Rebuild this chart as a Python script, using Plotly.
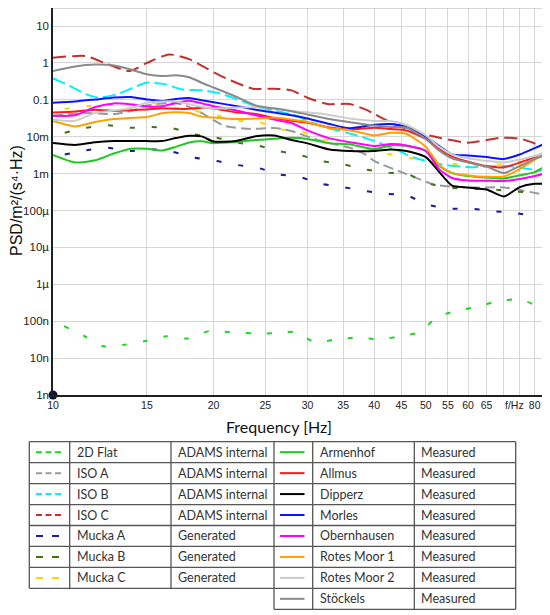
import math
import plotly.graph_objects as go

# measured / generated PSD curves
freq = [10, 11, 12, 13, 14, 15, 16, 17, 18, 19, 20, 22, 24, 26, 28, 30, 33, 36, 40, 43,
        46, 50, 53, 56, 60, 65, 70, 75, 80, 83]

armenhof = [0.0032, 0.0020, 0.0023, 0.0035, 0.0047, 0.0047, 0.0042, 0.0053, 0.0070, 0.0075,
            0.0067, 0.0072, 0.0081, 0.0088, 0.0093, 0.0087, 0.0067, 0.0062, 0.0046, 0.0058,
            0.0056, 0.0041, 0.0016, 0.00104, 0.00086, 0.00078, 0.00074, 0.00090, 0.0011, 0.00146]
allmus = [0.045, 0.048, 0.054, 0.050, 0.052, 0.055, 0.059, 0.057, 0.057, 0.061,
          0.058, 0.046, 0.041, 0.032, 0.027, 0.024, 0.0178, 0.0157, 0.0175, 0.0162,
          0.0148, 0.0087, 0.0046, 0.0029, 0.0021, 0.0016, 0.00147, 0.0020, 0.0028, 0.0036]
dipperz = [0.0068, 0.0060, 0.0071, 0.0076, 0.0076, 0.0076, 0.0076, 0.0092, 0.0106, 0.0102,
           0.0074, 0.0076, 0.0103, 0.0108, 0.0081, 0.0066, 0.0045, 0.0041, 0.0041, 0.0045,
           0.0041, 0.0028, 0.0011, 0.00047, 0.00042, 0.00037, 0.00024, 0.00043, 0.00053, 0.00053]
morles = [0.083, 0.090, 0.102, 0.115, 0.119, 0.102, 0.093, 0.105, 0.112, 0.097,
          0.086, 0.068, 0.054, 0.045, 0.038, 0.031, 0.022, 0.017, 0.021, 0.022,
          0.0183, 0.0101, 0.0056, 0.0033, 0.0031, 0.0028, 0.0025, 0.0033, 0.0049, 0.0062]
obernhausen = [0.037, 0.038, 0.064, 0.080, 0.075, 0.066, 0.067, 0.082, 0.094, 0.080,
               0.067, 0.052, 0.038, 0.029, 0.0235, 0.0148, 0.0090, 0.0071, 0.0056, 0.0063,
               0.0058, 0.0041, 0.0013, 0.00076, 0.00065, 0.00064, 0.00063, 0.00071, 0.00086, 0.00099]
rotes_moor_1 = [0.0266, 0.019, 0.025, 0.030, 0.032, 0.034, 0.043, 0.046, 0.044, 0.035,
                0.033, 0.030, 0.031, 0.033, 0.029, 0.025, 0.017, 0.015, 0.0108, 0.0127,
                0.0118, 0.0053, 0.0017, 0.00103, 0.00089, 0.00082, 0.00084, 0.00133, 0.0024, 0.0033]
rotes_moor_2 = [0.029, 0.027, 0.044, 0.051, 0.060, 0.083, 0.090, 0.090, 0.076, 0.064,
                0.058, 0.062, 0.063, 0.060, 0.050, 0.046, 0.039, 0.031, 0.0266, 0.0266,
                0.0207, 0.0108, 0.0053, 0.0033, 0.0026, 0.0022, 0.0020, 0.0024, 0.0030, 0.0035]
stoeckels = [0.60, 0.80, 0.90, 0.85, 0.66, 0.49, 0.44, 0.46, 0.41, 0.29,
             0.215, 0.123, 0.070, 0.058, 0.049, 0.040, 0.030, 0.0245, 0.020, 0.0183,
             0.0175, 0.0087, 0.0042, 0.0026, 0.0020, 0.00155, 0.00104, 0.0016, 0.0025, 0.0030]

iso_a_f = [10, 11.5, 13, 14, 15, 16.5, 17.5, 19, 20, 21, 23.5, 26, 28, 30.5, 32.7, 36,
           38.5, 40, 46, 52, 60, 70, 83]
iso_a = [0.037, 0.044, 0.041, 0.050, 0.070, 0.082, 0.075, 0.044, 0.028, 0.0195, 0.0162,
         0.0172, 0.0143, 0.0093, 0.0069, 0.0050, 0.0033, 0.0022, 0.00097, 0.00050,
         0.00042, 0.00042, 0.00027]

iso_b_f = [10, 10.75, 11.55, 12.2, 13.15, 14.1, 14.95, 16.1, 17.5, 19.1, 20.5, 22.7,
           24.4, 25.8, 28.2, 30.7, 33.5, 36.5, 40.1, 43.7, 47.6, 53.3, 59.9, 71.4, 82.2]
iso_b = [0.38, 0.24, 0.14, 0.114, 0.14, 0.21, 0.29, 0.27, 0.19, 0.18, 0.15, 0.09,
         0.062, 0.052, 0.039, 0.0237, 0.0158, 0.0116, 0.0076, 0.0046, 0.0027, 0.0018,
         0.0015, 0.0016, 0.00117]

iso_c_f = [10, 11.5, 12.5, 13.9, 15, 16.5, 18, 20, 21.2, 23.7, 26, 28, 30, 32.7, 36,
           38.5, 40.1, 43.7, 50.5, 60, 69.3, 75.5, 82.3]
iso_c = [1.38, 1.54, 1.0, 0.60, 1.0, 1.7, 1.27, 0.56, 0.37, 0.20, 0.20, 0.18, 0.114,
         0.077, 0.077, 0.055, 0.041, 0.0216, 0.011, 0.0069, 0.0094, 0.0087, 0.0056]

mucka_f = [10.52, 11.55, 12.68, 13.93, 15.29, 16.78, 18.43, 20.25, 22.23, 24.4, 26.4,
           29.0, 31.8, 35.0, 38.4, 42.1, 46.3, 50.1, 55.0, 60.4, 66.3, 72.9, 80.0]
mucka_a = [0.0033, 0.0043, 0.0050, 0.0041, 0.0046, 0.0039, 0.0027, 0.0022, 0.0017,
           0.00139, 0.00096, 0.00081, 0.00053, 0.00043, 0.00034, 0.000285, 0.00025,
           0.000147, 0.000113, 0.000113, 0.000097, 0.000087, 0.000071]
mucka_b = [0.0128, 0.0175, 0.0204, 0.0175, 0.0183, 0.0169, 0.0116, 0.0094, 0.0069,
           0.0056, 0.0041, 0.0032, 0.0022, 0.00179, 0.00131, 0.00106, 0.00096, 0.00056,
           0.000415, 0.00039, 0.000376, 0.00033, 0.00030]
mucka_c = [0.056, 0.068, 0.072, 0.075, 0.082, 0.061, 0.050, 0.038, 0.027, 0.025, 0.016,
           0.0143, 0.0086, 0.0076, 0.0050, 0.0035, 0.0027, 0.0021, 0.0019, 0.0017,
           0.0017, 0.0018, 0.0016]

flat_f = [10.49, 11.43, 12.41, 13.59, 14.90, 16.32, 17.91, 19.61, 21.45, 23.61, 25.86,
          28.47, 30.95, 33.88, 37.21, 40.86, 44.8, 48.9, 52.4, 57.1, 62.6, 68.3, 74.9, 81.4]
flat_2d = [7.4e-8, 4.0e-8, 2.1e-8, 2.3e-8, 2.9e-8, 3.9e-8, 3.4e-8, 5.4e-8, 5.1e-8,
           4.7e-8, 4.7e-8, 5.1e-8, 2.7e-8, 3.2e-8, 3.6e-8, 3.2e-8, 3.9e-8, 5.2e-8,
           1.3e-7, 1.9e-7, 2.5e-7, 3.5e-7, 3.9e-7, 2.5e-7]

x_ticks = [10, 15, 20, 25, 30, 35, 40, 45, 50, 55, 60, 65, 70, 75, 80]
x_ticktext = ["10", "15", "20", "25", "30", "35", "40", "45", "50", "55", "60", "65",
              "", "", "80"]
unit_tick = 75  # this gridline carries the "f/Hz" label
y_ticks = [1e-9, 1e-8, 1e-7, 1e-6, 1e-5, 1e-4, 1e-3, 1e-2, 1e-1, 1, 10]
y_ticktext = ["1n", "10n", "100n", "1µ", "10µ", "100µ", "1m", "10m", "0.1", "1", "10"]

left_names = ["2D Flat", "ISO A", "ISO B", "ISO C", "Mucka A", "Mucka B", "Mucka C"]
left_source = ["ADAMS internal"] * 4 + ["Generated"] * 3
right_names = ["Armenhof", "Allmus", "Dipperz", "Morles", "Obernhausen",
               "Rotes Moor 1", "Rotes Moor 2", "Stöckels"]
right_source = ["Measured"] * 8

# (x, y, colour, dash in plot, dash in table)
left_series = [
    (flat_f, flat_2d, "#22d422", "5px,16px", "6px,3.5px"),
    (iso_a_f, iso_a, "#9a9a9a", "10px,5px", "6px,3.5px"),
    (iso_b_f, iso_b, "#00f0ff", "13px,5px", "6px,3.5px"),
    (iso_c_f, iso_c, "#c4302c", "13px,6px", "6px,3.5px"),
    (mucka_f, mucka_a, "#1a1a9c", "5px,17px", "7px,9px"),
    (mucka_f, mucka_b, "#44701a", "5px,17px", "7px,9px"),
    (mucka_f, mucka_c, "#ffd500", "5px,17px", "7px,9px"),
]
right_series = [
    (freq, armenhof, "#1ec81e"),
    (freq, allmus, "#ff1a1a"),
    (freq, dipperz, "#000000"),
    (freq, morles, "#0a14ff"),
    (freq, obernhausen, "#ff00ff"),
    (freq, rotes_moor_1, "#ffa000"),
    (freq, rotes_moor_2, "#cccccc"),
    (freq, stoeckels, "#8a8a8a"),
]

fig = go.Figure()

for x, y, c, d, _ in left_series:
    fig.add_trace(go.Scatter(x=x, y=y, mode="lines",
                             line=dict(color=c, width=2, dash=d, shape="spline", smoothing=0.6)))
for x, y, c in right_series:
    fig.add_trace(go.Scatter(x=x, y=y, mode="lines",
                             line=dict(color=c, width=2, shape="spline", smoothing=0.6)))

# dot at the axes origin
fig.add_trace(go.Scatter(x=[10], y=[1e-9], mode="markers", cliponaxis=False,
                         marker=dict(color="#0b1433", size=9)))

# the page body has an 8 px margin, so the figure is drawn 8 px in from the window edge
PAGE = 8
W, H = 550 - PAGE, 615 - PAGE
# plot area in window pixels
L, R, T, B = 53, 544, 8, 395


def px(x):
    return (x - L) / (R - L)


def py(y):
    return (B - y) / (B - T)


shapes = []
annotations = []

# frame
shapes.append(dict(type="line", xref="paper", yref="paper", x0=0, x1=1, y0=1, y1=1,
                   line=dict(color="#b0b0b0", width=1)))
shapes.append(dict(type="line", xref="paper", yref="paper", x0=1, x1=1, y0=0, y1=1,
                   line=dict(color="#303030", width=1.5)))

# legend table
col_x = [29.3, 69.7, 171, 274, 312.7, 414.3, 515.7]
row_top = 441.7
row_h = 20.95
tcol = dict(color="#555555", width=1.3)


def hline(x0, x1, y):
    shapes.append(dict(type="line", xref="paper", yref="paper", x0=px(x0), x1=px(x1),
                       y0=py(y), y1=py(y), line=tcol))


def vline(x, y0, y1):
    shapes.append(dict(type="line", xref="paper", yref="paper", x0=px(x), x1=px(x),
                       y0=py(y0), y1=py(y1), line=tcol))


for i in range(len(left_names) + 1):
    hline(col_x[0], col_x[3], row_top + i * row_h)
for i in range(len(right_names) + 1):
    hline(col_x[3], col_x[6], row_top + i * row_h)
for cx in col_x[:3]:
    vline(cx, row_top, row_top + len(left_names) * row_h)
for cx in col_x[3:]:
    vline(cx, row_top, row_top + len(right_names) * row_h)


def cell_text(x, y, text):
    annotations.append(dict(xref="paper", yref="paper", x=px(x), y=py(y), text=text,
                            showarrow=False, xanchor="left", yanchor="middle",
                            font=dict(family="Lato", size=12.5, color="#333333")))


for i, name in enumerate(left_names):
    yc = row_top + (i + 0.5) * row_h
    c, ld = left_series[i][2], left_series[i][4]
    shapes.append(dict(type="line", xref="paper", yref="paper", x0=px(36), x1=px(61),
                       y0=py(yc), y1=py(yc), line=dict(color=c, width=2, dash=ld)))
    cell_text(74.5, yc, name)
    cell_text(175.5, yc, left_source[i])

for i, name in enumerate(right_names):
    yc = row_top + (i + 0.5) * row_h
    c = right_series[i][2]
    shapes.append(dict(type="line", xref="paper", yref="paper", x0=px(280), x1=px(304.5),
                       y0=py(yc), y1=py(yc), line=dict(color=c, width=2)))
    cell_text(317.5, yc, name)
    cell_text(418.5, yc, right_source[i])

# unit label in place of the 75 Hz tick (log axis -> annotation x in log10 units)
annotations.append(dict(xref="x", yref="paper", x=math.log10(unit_tick), y=py(404.5),
                        text="f/Hz", showarrow=False, xanchor="center", yanchor="middle",
                        xshift=-5, font=dict(family="Liberation Sans", size=10.5,
                                             color="#222222")))

annotations.append(dict(xref="paper", yref="paper", x=px(279), y=py(426),
                        text="Frequency [Hz]", showarrow=False,
                        xanchor="center", yanchor="middle",
                        font=dict(family="Lato", size=16, color="#111111")))
annotations.append(dict(xref="paper", yref="paper", x=px(17), y=py(201),
                        text="PSD/m²/(s⁴·Hz)", showarrow=False, textangle=-90,
                        xanchor="center", yanchor="middle",
                        font=dict(family="Liberation Sans", size=16, color="#111111")))

fig.update_layout(
    width=W, height=H,
    margin=dict(l=L - PAGE, r=W - (R - PAGE), t=T - PAGE, b=H - (B - PAGE)),
    paper_bgcolor="white", plot_bgcolor="white",
    showlegend=False,
    shapes=shapes, annotations=annotations,
    font=dict(family="Liberation Sans", size=11, color="#222222"),
)
fig.update_xaxes(type="log", range=[1, 1.9205], tickvals=x_ticks, ticktext=x_ticktext,
                 tickangle=0, showgrid=True, gridcolor="#d6d6d6", gridwidth=1.2,
                 showline=True, linecolor="#202020", linewidth=1.5,
                 ticks="", zeroline=False, tickfont=dict(size=10.5))
fig.update_yaxes(type="log", range=[-9, 1.488], tickvals=y_ticks, ticktext=y_ticktext,
                 showgrid=True, gridcolor="#d6d6d6", gridwidth=1.2,
                 showline=True, linecolor="#202020", linewidth=1.5,
                 ticks="", zeroline=False, tickfont=dict(size=11.5))

fig.write_html("out.html")
